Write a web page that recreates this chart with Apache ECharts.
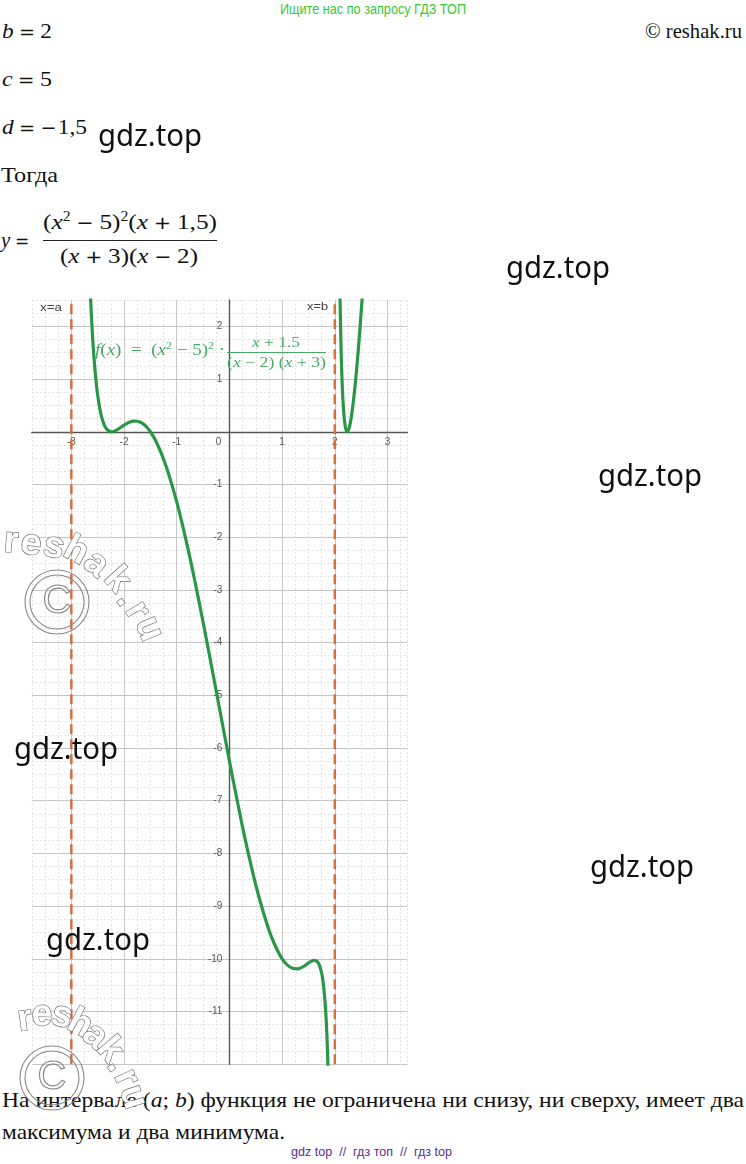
<!DOCTYPE html>
<html><head><meta charset="utf-8">
<script src="https://cdn.jsdelivr.net/npm/echarts@6/dist/echarts.min.js"></script>
<style>
html,body{margin:0;padding:0;background:#fff;}
body{width:746px;height:1164px;position:relative;overflow:hidden;font-family:"Liberation Serif",serif;color:#111;}
.t{position:absolute;white-space:nowrap;line-height:1;z-index:1;}
.m{font-size:22px;font-family:"Liberation Serif",serif;}
.op{font-family:"DejaVu Sans",sans-serif;font-size:18px;margin:0 5px;}
sup{font-size:0.62em;vertical-align:0.6em;line-height:0;}
#chart{position:absolute;left:0;top:0;width:746px;height:1164px;z-index:2;}
.wm{position:absolute;z-index:3;font-family:"Noto Sans",sans-serif;font-size:30px;line-height:1;color:#111;white-space:nowrap;}
.cf{z-index:3;font-family:"Liberation Serif",serif;color:#47aa64;}
.lab{z-index:3;font-family:"Liberation Sans",sans-serif;font-size:10px;color:#444;}
</style></head><body>

<div class="t" data-w="186" style="left:280px;top:2px;font-family:'Liberation Sans',sans-serif;font-size:14px;color:#38c838">Ищите нас по запросу ГДЗ ТОП</div>
<div class="t" data-w="97" style="left:645px;top:21px;font-size:21px">© reshak.ru</div>

<div class="t m" data-w="50" style="left:2px;top:20px"><i>b</i><span class="op">=</span>2</div>
<div class="t m" data-w="50" style="left:2px;top:68px"><i>c</i><span class="op">=</span>5</div>
<div class="t m" data-w="85" style="left:2px;top:116px"><i>d</i><span class="op">=</span><span class="op" style="margin:0 1px 0 0">−</span>1,5</div>
<div class="t m" data-w="57" style="left:1px;top:164px">Тогда</div>

<div class="t m" data-w="33" style="left:1px;top:229px"><i>y</i><span class="op">=</span></div>
<div class="t m" data-w="174" style="left:43px;top:211px">(<i>x</i><sup>2</sup><span class="op">−</span>5)<sup>2</sup>(<i>x</i><span class="op">+</span>1,5)</div>
<div class="t" style="left:43px;top:240px;width:174px;height:1.3px;background:#222"></div>
<div class="t m" data-w="138" style="left:60px;top:245px">(<i>x</i><span class="op">+</span>3)(<i>x</i><span class="op">−</span>2)</div>

<div class="t m" id="p1" data-w="742" style="left:2px;top:1089px">На интервале (<i>a</i>; <i>b</i>) функция не ограничена ни снизу, ни сверху, имеет два</div>
<div class="t m" id="p2" data-w="283" style="left:2px;top:1121px">максимума и два минимума.</div>
<div class="t" data-w="161" style="left:291px;top:1145px;font-family:'Liberation Sans',sans-serif;font-size:13px;color:#5c2d91">gdz top &nbsp;//&nbsp; гдз топ &nbsp;//&nbsp; гдз top</div>

<div id="chart"></div>

<div class="t lab" data-w="22" style="left:40px;top:303px">x=a</div>
<div class="t lab" data-w="21" style="left:307px;top:302px">x=b</div>
<div class="t cf" data-w="130" style="left:95px;top:341px;font-size:17px"><i>f</i>(<i>x</i>) &nbsp;= &nbsp;(<i>x</i><sup>2</sup> − 5)<sup>2</sup> ·</div>
<div class="t cf" data-w="48" style="left:252px;top:336px;font-size:14px"><i>x</i> + 1.5</div>
<div class="t cf" style="left:227px;top:352px;width:99px;height:1px;background:#47aa64"></div>
<div class="t cf" data-w="99" style="left:227px;top:356px;font-size:14px">(<i>x</i> − 2) (<i>x</i> + 3)</div>

<div class="wm" data-w="104" style="left:98px;top:120px">gdz.top</div>
<div class="wm" data-w="104" style="left:506px;top:252px">gdz.top</div>
<div class="wm" data-w="104" style="left:598px;top:460px">gdz.top</div>
<div class="wm" data-w="104" style="left:14px;top:733px">gdz.top</div>
<div class="wm" data-w="104" style="left:590px;top:851px">gdz.top</div>
<div class="wm" data-w="104" style="left:46px;top:924px">gdz.top</div>

<script>
// ---- data ----
const asymptotesX = [-3, 2];
const midX = [-2.7,-2.66,-2.64,-2.62,-2.6,-2.58,-2.56,-2.54,-2.52,-2.5,-2.47,-2.44,-2.41,-2.38,-2.35,-2.32,-2.29,-2.26,-2.236,-2.2,-2.15,-2.1,-2.05,-2,-1.95,-1.9,-1.85,-1.8,-1.75,-1.7,-1.65,-1.6,-1.55,-1.5,-1.45,-1.4,-1.3,-1.2,-1.1,-1,-0.9,-0.8,-0.7,-0.6,-0.5,-0.4,-0.3,-0.2,-0.1,0,0.1,0.2,0.3,0.4,0.5,0.6,0.7,0.8,0.9,1,1.1,1.2,1.3,1.4,1.5,1.55,1.6,1.65,1.7,1.75,1.78,1.8,1.82,1.84,1.86,1.88,1.9];
const midY = [4.46,3.15,2.65,2.22,1.85,1.54,1.28,1.05,0.86,0.69,0.50,0.34,0.23,0.14,0.08,0.04,0.016,0.003,0,0.005,0.026,0.057,0.091,0.125,0.156,0.180,0.197,0.204,0.200,0.185,0.158,0.118,0.066,0,-0.079,-0.17,-0.39,-0.66,-0.98,-1.33,-1.73,-2.16,-2.62,-3.11,-3.61,-4.13,-4.66,-5.19,-5.72,-6.25,-6.76,-7.26,-7.74,-8.18,-8.60,-8.97,-9.30,-9.59,-9.82,-10.0,-10.12,-10.18,-10.19,-10.15,-10.08,-10.05,-10.03,-10.04,-10.10,-10.27,-10.46,-10.65,-10.90,-11.24,-11.72,-12.40,-13.41];
const rightX = [2.08,2.1,2.12,2.14,2.16,2.18,2.2,2.22,2.236,2.25,2.28,2.31,2.34,2.37,2.4,2.43,2.46,2.49,2.52,2.55];
const rightY = [4.0,2.46,1.51,0.89,0.50,0.24,0.091,0.017,0,0.011,0.10,0.26,0.48,0.74,1.04,1.38,1.74,2.14,2.55,3.0];
const xTickLabels = [-3,-2,-1,0,1,2,3];
const yTickLabels = [2,1,-1,-2,-3,-4,-5,-6,-7,-8,-9,-10,-11];
const xRange = [-3.75, 3.375];
const yRange = [-12, 2.5];
const gridStep = 0.25;

// ---- layout / fitting of text ----
document.querySelectorAll('[data-w]').forEach(el => {
  const w = el.getBoundingClientRect().width;
  const tw = +el.dataset.w;
  if (w > 0) { el.style.transformOrigin = '0 50%'; el.style.transform = 'scaleX(' + (tw / w) + ')'; }
});

const GREEN = '#2a9747', ORANGE = '#d46f3e', MAJ = '#c6c6c6', MIN = '#e3e3e3', T = 'rgba(0,0,0,0)';
const zip = (xs, ys) => xs.map((x, i) => [x, ys[i]]);
const r2 = v => Math.round(v * 1000) / 1000;

const G = {left:31.8, top:300, width:375.5, height:764.2};
// axes drawn through the origin: shift each axis from its grid edge to the zero of the other axis
const xAxisOffset = -G.height * (0 - yRange[0]) / (yRange[1] - yRange[0]);
const yAxisOffset = -G.width * (0 - xRange[0]) / (xRange[1] - xRange[0]);

const chart = echarts.init(document.getElementById('chart'), null, {renderer: 'canvas'});

const wm1 = [['r',11,542,5],['e',31,544,8],['s',54,547,12],['h',76,551,28],['a',96,564,40],['k',117,580,48],['.',127,598,55],['r',137,611,60],['u',149,629,68]];
const wm2 = [['r',25,1020,-8],['e',42,1015,2],['s',62,1016,14],['h',80,1024,28],['a',95,1036,40],['k',110,1050,50],['.',118,1064,58],['r',126,1078,65],['u',133,1097,72]];
const graphics = [];
function addWm(letters, cx, cy) {
  graphics.push({type:'circle', z:100, silent:true, shape:{cx:cx, cy:cy, r:32}, style:{fill:null, stroke:'#888', lineWidth:1.1}});
  graphics.push({type:'circle', z:100, silent:true, shape:{cx:cx, cy:cy, r:27}, style:{fill:null, stroke:'#888', lineWidth:1.1}});
  graphics.push({type:'text', z:100, silent:true, x:cx, y:cy, style:{text:'C', font:'40px "Liberation Sans"', fill:'rgba(255,255,255,0)', stroke:'#888', lineWidth:1.1, align:'center', verticalAlign:'middle'}});
  letters.forEach(([ch, x, y, rot]) => {
    graphics.push({type:'text', z:101, silent:true, x:x, y:y, rotation:-rot * Math.PI / 180,
      style:{text:ch, font:'bold 37px "Liberation Sans"', fill:'#fff', stroke:'#6f6f6f', lineWidth:1.3, align:'center', verticalAlign:'middle'}});
  });
}
addWm(wm1, 57, 602);
addWm(wm2, 52, 1078);

function axisBase(range) {
  return {type:'value', min:range[0], max:range[1], interval:gridStep, scale:false};
}
const option = {
  animation: false,
  backgroundColor: 'rgba(0,0,0,0)',
  grid: {left:G.left, top:G.top, width:G.width, height:G.height, containLabel:false, outerBoundsMode:'none', show:false},
  xAxis: [
    Object.assign(axisBase(xRange), {
      position:'bottom', offset:xAxisOffset,
      axisLine:{show:true, onZero:false, lineStyle:{color:'#555', width:1.4}},
      axisTick:{show:false},
      axisLabel:{show:true, margin:5, fontSize:10, color:'#555', fontFamily:'Liberation Sans',
        formatter: v => { const r = r2(v); if (r === 0) return '{o|0}'; return xTickLabels.includes(r) ? String(r) : ''; },
        rich:{o:{fontSize:10, color:'#555', fontFamily:'Liberation Sans', padding:[0,22,0,0]}}},
      splitLine:{show:true, lineStyle:{color:[T,T,T,MAJ], width:1}}
    }),
    Object.assign(axisBase(xRange), {
      axisLine:{show:false, onZero:false}, axisTick:{show:false}, axisLabel:{show:false},
      splitLine:{show:true, lineStyle:{color:[MIN,MIN,MIN,T], width:1, type:[2,2]}}
    })
  ],
  yAxis: [
    Object.assign(axisBase(yRange), {
      position:'left', offset:yAxisOffset,
      axisLine:{show:true, onZero:false, lineStyle:{color:'#555', width:1.4}},
      axisTick:{show:false},
      axisLabel:{show:true, margin:7, fontSize:10, color:'#555', fontFamily:'Liberation Sans',
        formatter: v => { const r = r2(v); return yTickLabels.includes(r) ? String(r) : ''; }},
      splitLine:{show:true, lineStyle:{color:[MAJ,T,T,T], width:1}}
    }),
    Object.assign(axisBase(yRange), {
      axisLine:{show:false, onZero:false}, axisTick:{show:false}, axisLabel:{show:false},
      splitLine:{show:true, lineStyle:{color:[T,MIN,MIN,MIN], width:1, type:[2,2]}}
    })
  ],
  series: [
    ...asymptotesX.map(a => ({type:'line', xAxisIndex:0, yAxisIndex:0, data:[[a, yRange[0]], [a, yRange[1]]],
      symbol:'none', silent:true, z:3, lineStyle:{color:ORANGE, width:2.5, type:[10,5]}})),
    {type:'line', xAxisIndex:0, yAxisIndex:0, data:zip(midX, midY), symbol:'none', smooth:0.3, clip:true, silent:true, z:5,
      lineStyle:{color:GREEN, width:3.2}},
    {type:'line', xAxisIndex:0, yAxisIndex:0, data:zip(rightX, rightY), symbol:'none', smooth:0.3, clip:true, silent:true, z:5,
      lineStyle:{color:GREEN, width:3.2}}
  ],
  graphic: graphics
};
chart.setOption(option);
</script>
</body></html>
